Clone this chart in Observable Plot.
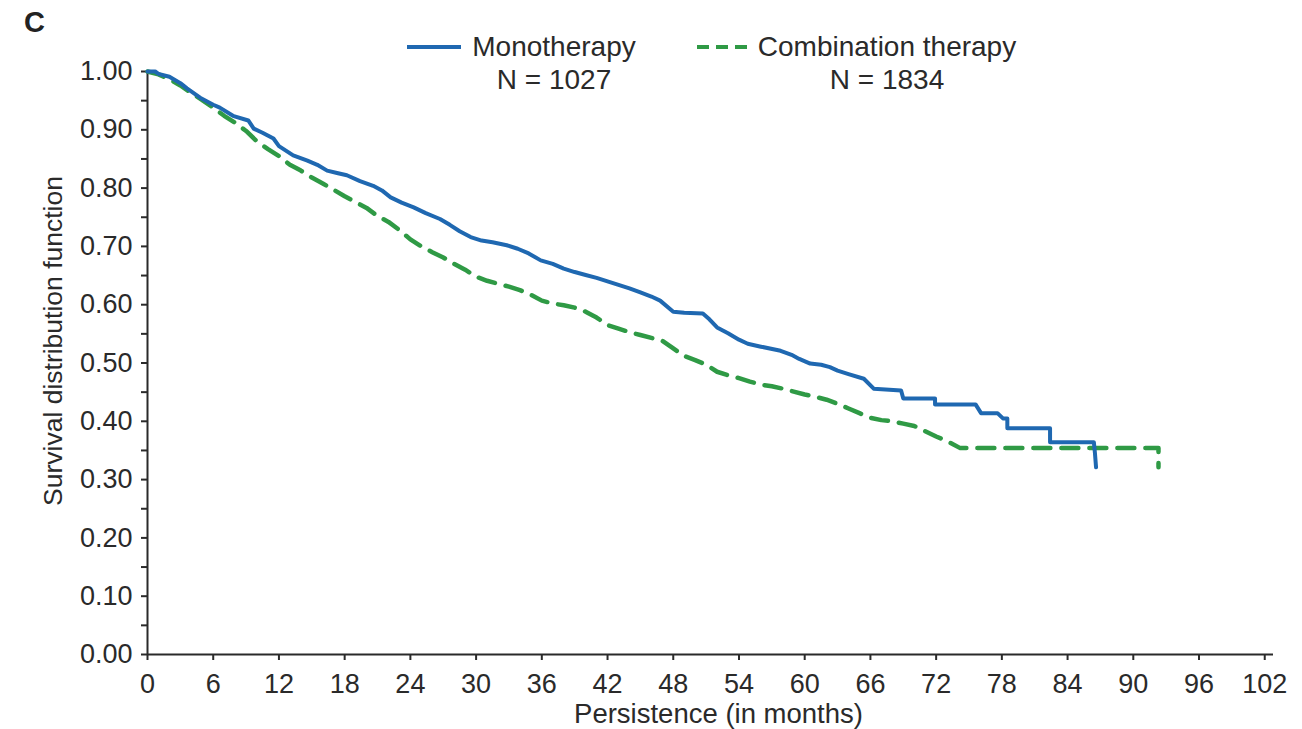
<!DOCTYPE html>
<html>
<head>
<meta charset="utf-8">
<script src="https://cdn.jsdelivr.net/npm/d3@7"></script>
<script src="https://cdn.jsdelivr.net/npm/@observablehq/plot@0.6"></script>
<style>
  html, body { margin: 0; padding: 0; background: #fff; }
  #wrap { position: relative; width: 1302px; height: 729px; font-family: "Liberation Sans", Arial, sans-serif; color: #2a2a2a; overflow: hidden; }
  #panel { position: absolute; left: 24px; top: 6px; font-size: 29px; font-weight: bold; color: #222; }
  .legtxt { position: absolute; text-align: center; font-size: 28px; line-height: 33px; white-space: nowrap; color: #2a2a2a; }
  .sw { position: absolute; }
</style>
</head>
<body>
<div id="wrap">
  <div id="chart"></div>
</div>
<script>
// ---- data (corner points of the visible steps) ----
const seriesNames = ["Monotherapy", "Combination therapy"];
const seriesN = ["N = 1027", "N = 1834"];
const xTitle = "Persistence (in months)";
const yTitle = "Survival distribution function";

const monoMonths = [0,0.7,1,2,3,3.6,4.8,6,6.6,7.8,9.2,9.7,10.5,11.5,12,13.3,14.6,15.5,16.4,17.3,18.2,19.4,20.6,21.4,22.2,23.2,24.3,25.4,26.7,27.6,28.5,29.5,30.5,31.5,32.8,33.8,34.8,35.9,37,38,39,40,41,42,43,44,45,46,46.8,48,49,50.7,51.3,52,53,54,54.8,56,57.8,58.8,59.5,60.5,61.5,62.3,63,64,65.4,66.3,68.8,69.0,71.9,71.9,75.6,76.1,77.6,78.1,78.5,78.5,82.4,82.4,86.4,86.5,86.6];
const monoSurv   = [1.000,1.000,0.996,0.991,0.980,0.971,0.955,0.943,0.938,0.924,0.916,0.902,0.895,0.885,0.872,0.856,0.847,0.840,0.830,0.826,0.822,0.812,0.804,0.796,0.784,0.775,0.767,0.757,0.747,0.737,0.726,0.716,0.710,0.707,0.702,0.696,0.688,0.676,0.670,0.662,0.656,0.651,0.646,0.640,0.634,0.628,0.621,0.614,0.607,0.588,0.586,0.585,0.575,0.561,0.551,0.540,0.533,0.528,0.521,0.514,0.507,0.499,0.497,0.493,0.487,0.481,0.473,0.456,0.453,0.439,0.439,0.429,0.429,0.414,0.414,0.405,0.405,0.388,0.388,0.364,0.364,0.345,0.321];

const comboMonths = [0,1,2,3,4,5,6,7,8,9,10,11,12,13,14,15,16,17,18,19,20,21,22,23,24,25,26,27,28,29,30,31,32,33,34,35,36,37,38,39,40,41,42,43,44,45,46,47,48,49,50,51,52,53,54,55,56,57,58,59,60,61,62,63,64,65,66,67,68,69,70,71,72,73,74.2,92.3,92.3];
const comboSurv   = [1.000,0.995,0.987,0.976,0.963,0.951,0.938,0.924,0.912,0.898,0.880,0.867,0.855,0.840,0.830,0.818,0.808,0.797,0.786,0.776,0.766,0.752,0.742,0.728,0.712,0.700,0.690,0.681,0.670,0.660,0.648,0.641,0.636,0.631,0.625,0.617,0.607,0.602,0.599,0.595,0.588,0.578,0.565,0.559,0.553,0.548,0.543,0.538,0.525,0.512,0.505,0.497,0.485,0.479,0.474,0.468,0.463,0.460,0.456,0.451,0.446,0.442,0.437,0.430,0.422,0.414,0.406,0.402,0.400,0.396,0.392,0.383,0.374,0.366,0.354,0.354,0.321];

const xTickValues = [0,6,12,18,24,30,36,42,48,54,60,66,72,78,84,90,96,102];
const yMajorTicks = [0,0.1,0.2,0.3,0.4,0.5,0.6,0.7,0.8,0.9,1.0];
const yMinorTicks = [0.05,0.15,0.25,0.35,0.45,0.55,0.65,0.75,0.85,0.95];

const colors = ["#1f68b1", "#2f9a45"];
const ink = "#2a2a2a";

// ---- build ----
const mono = monoMonths.map((t, i) => ({t, s: monoSurv[i]}));
const combo = comboMonths.map((t, i) => ({t, s: comboSurv[i]}));

const chart = Plot.plot({
  width: 1302,
  height: 729,
  marginLeft: 147,
  marginRight: 29,
  marginTop: 71,
  marginBottom: 75,
  style: {fontFamily: "'Liberation Sans', Arial, sans-serif", fontSize: "27px", color: ink, background: "transparent"},
  x: {domain: [0, 102.8]},
  y: {domain: [0, 1]},
  marks: [
    Plot.axisY({ticks: yMinorTicks, tickFormat: () => "", tickSize: 6, label: null, strokeWidth: 2}),
    Plot.axisY({ticks: yMajorTicks, tickFormat: d3.format(".2f"), tickSize: 6, tickPadding: 9, strokeWidth: 2, label: null}),
    Plot.axisX({ticks: xTickValues, tickFormat: d => String(d), tickSize: 6, tickPadding: 13, strokeWidth: 2, label: null}),
    Plot.text([yTitle], {frameAnchor: "left", rotate: -90, dx: -86, dy: -22, textAnchor: "middle", lineAnchor: "bottom", fontSize: 26.5, fill: ink}),
    Plot.text([xTitle], {frameAnchor: "bottom", dx: 8, dy: 68, textAnchor: "middle", lineAnchor: "bottom", fontSize: 27.5, fill: ink}),
    Plot.ruleX([0], {stroke: ink, strokeWidth: 2}),
    Plot.ruleY([0], {stroke: ink, strokeWidth: 2}),
    Plot.line(combo, {x: "t", y: "s", curve: "linear", stroke: colors[1], strokeWidth: 4.5, strokeDasharray: "17,11"}),
    Plot.line(mono, {x: "t", y: "s", curve: "linear", stroke: colors[0], strokeWidth: 4})
  ]
});
document.getElementById("chart").appendChild(chart);

// ---- panel letter & legend (overlaid) ----
const wrap = document.getElementById("wrap");
const panel = document.createElement("div");
panel.id = "panel"; panel.textContent = "C";
wrap.appendChild(panel);

const legendItems = [
  {swLeft: 407, swWidth: 54, txtLeft: 466, txtWidth: 176, dash: null},
  {swLeft: 697, swWidth: 52, txtLeft: 752, txtWidth: 270, dash: "12,7"}
];
legendItems.forEach((it, i) => {
  const ns = "http://www.w3.org/2000/svg";
  const sw = document.createElementNS(ns, "svg");
  sw.setAttribute("class", "sw");
  sw.setAttribute("width", it.swWidth);
  sw.setAttribute("height", 10);
  sw.style.left = it.swLeft + "px";
  sw.style.top = "42px";
  const ln = document.createElementNS(ns, "line");
  ln.setAttribute("x1", 0); ln.setAttribute("x2", it.swWidth);
  ln.setAttribute("y1", 5); ln.setAttribute("y2", 5);
  ln.setAttribute("stroke", colors[i]);
  ln.setAttribute("stroke-width", 4);
  if (it.dash) ln.setAttribute("stroke-dasharray", it.dash);
  sw.appendChild(ln);
  wrap.appendChild(sw);
  const t = document.createElement("div");
  t.className = "legtxt";
  t.style.left = it.txtLeft + "px";
  t.style.top = "30px";
  t.style.width = it.txtWidth + "px";
  t.innerHTML = seriesNames[i] + "<br>" + seriesN[i];
  wrap.appendChild(t);
});
</script>
</body>
</html>
